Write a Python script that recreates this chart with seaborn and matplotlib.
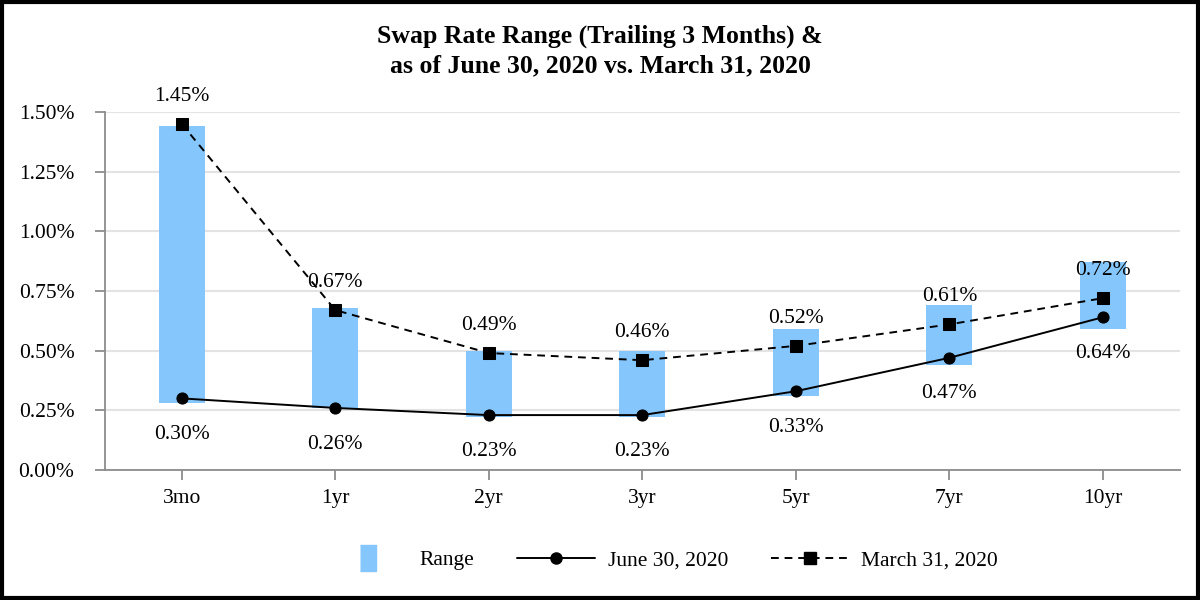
import seaborn as sns
import matplotlib.pyplot as plt
from matplotlib.patches import Rectangle
from matplotlib.lines import Line2D
from matplotlib.ticker import FuncFormatter

# values (percent)
tenors = ["3mo", "1yr", "2yr", "3yr", "5yr", "7yr", "10yr"]
range_low = [0.28, 0.26, 0.22, 0.22, 0.31, 0.44, 0.59]
range_high = [1.44, 0.68, 0.50, 0.50, 0.59, 0.69, 0.87]
june_2020 = [0.30, 0.26, 0.23, 0.23, 0.33, 0.47, 0.64]
march_2020 = [1.45, 0.67, 0.49, 0.46, 0.52, 0.61, 0.72]

sns.set_theme(style="whitegrid")
plt.rcParams["font.family"] = ["Liberation Serif", "DejaVu Serif"]
plt.rcParams["text.color"] = "black"

fs = 15.5
fig = plt.figure(figsize=(12, 6), dpi=100)
ax = fig.add_axes([0.0875, 0.2167, 0.8955, 0.5966])

bar_color = "#85c7fc"
pos = list(range(len(tenors)))
heights = [h - l for h, l in zip(range_high, range_low)]
sns.barplot(x=pos, y=heights, bottom=range_low, color=bar_color, width=0.3,
            saturation=1, ax=ax, linewidth=0, native_scale=True)

sns.lineplot(x=pos, y=june_2020, color="black", linewidth=1.4, marker="o",
             markersize=8, markeredgecolor="black", ax=ax)
sns.lineplot(x=pos, y=march_2020, color="black", linewidth=1.4, linestyle=(0, (4, 3)),
             marker="s", markersize=8, markeredgecolor="black", ax=ax)

for x, v in zip(pos, march_2020):
    ax.annotate(f"{v:.2f}%", (x, v), xytext=(0, 20), textcoords="offset points",
                ha="center", va="center", fontsize=fs, color="black")
for x, v in zip(pos, june_2020):
    ax.annotate(f"{v:.2f}%", (x, v), xytext=(0, -26), textcoords="offset points",
                ha="center", va="center", fontsize=fs, color="black")

ax.set_xlim(-0.5, len(tenors) - 0.5)
ax.set_ylim(0, 1.5)
ax.set_yticks([0, 0.25, 0.5, 0.75, 1.0, 1.25, 1.5])
ax.yaxis.set_major_formatter(FuncFormatter(lambda v, p: f"{v:.2f}%"))
ax.set_xticks(pos)
ax.set_xticklabels(tenors)
ax.set_xlabel("")
ax.set_ylabel("")

ax.grid(axis="y", color="#e3e3e3", linewidth=1.5)
ax.grid(axis="x", visible=False)
ax.set_axisbelow(True)
for side in ["top", "right"]:
    ax.spines[side].set_visible(False)
for side in ["left", "bottom"]:
    ax.spines[side].set_color("#8c8c8c")
    ax.spines[side].set_linewidth(1.3)
ax.tick_params(axis="both", which="major", length=7, width=1.3, color="#8c8c8c",
               labelsize=fs, labelcolor="black", direction="out")
ax.tick_params(axis="x", pad=7, bottom=True)
ax.tick_params(axis="y", left=True, pad=15)

fig.text(0.5, 0.915, "Swap Rate Range (Trailing 3 Months) &\nas of June 30, 2020 vs. March 31, 2020",
         ha="center", va="center", fontsize=18.5, fontweight="bold", linespacing=1.35)

tall_box = [(-0.6, -1), (0.6, -1), (0.6, 1), (-0.6, 1)]
handles = [
    Line2D([0], [0], linestyle="none", marker=tall_box, markersize=19, color=bar_color),
    Line2D([0], [0], color="black", linewidth=1.4, marker="o", markersize=8),
    Line2D([0], [0], color="black", linewidth=1.4, linestyle=(0, (4, 3)), marker="s", markersize=8),
]
fig.legend(handles, ["Range", "June 30, 2020", "March 31, 2020"], loc="center",
           bbox_to_anchor=(0.553, 0.066), ncol=3, frameon=False, fontsize=fs,
           handlelength=3.6, columnspacing=2.0, handletextpad=0.6)

fig.patches.append(Rectangle((0.002, 0.003), 0.996, 0.994, transform=fig.transFigure,
                             fill=False, edgecolor="black", linewidth=3))

plt.savefig("out.png", dpi=100)
